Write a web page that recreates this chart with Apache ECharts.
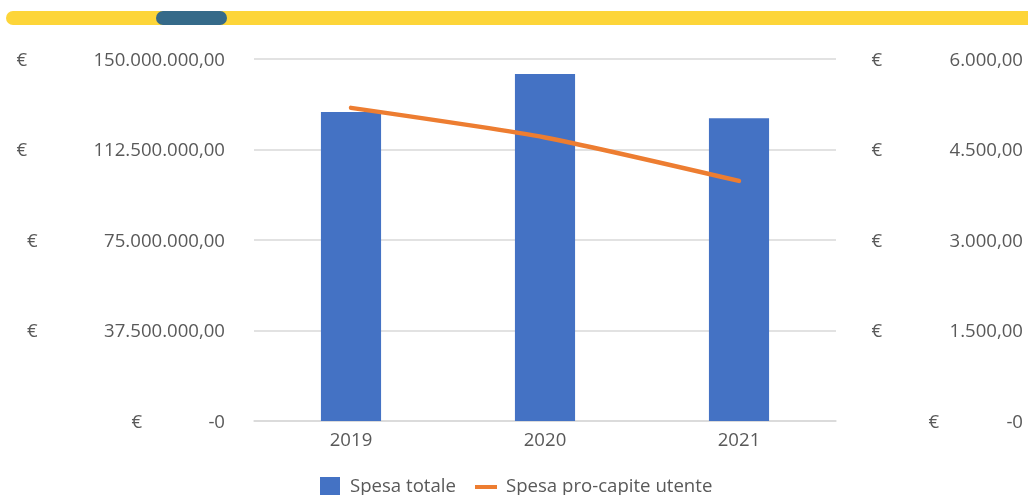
<!DOCTYPE html>
<html><head><meta charset="utf-8">
<script src="https://cdn.jsdelivr.net/npm/echarts@6/dist/echarts.min.js"></script>
<style>html,body{margin:0;padding:0;background:#fff}#c{width:1028px;height:495px}</style>
</head><body><div id="c"></div>
<script>
const categories = ['2019', '2020', '2021'];
const spesaTotale = [128000000, 143800000, 125500000];
const spesaProCapite = [5190, 4700, 3980];
const leftTicks = [0, 37500000, 75000000, 112500000, 150000000];
const rightTicks = [0, 1500, 3000, 4500, 6000];

function fmtIt(n) {
  if (n === 0) return '-0';
  const fixed = n.toFixed(2);
  const parts = fixed.split('.');
  const intPart = parts[0].replace(/\B(?=(\d{3})+(?!\d))/g, '.');
  return intPart + ',' + parts[1];
}

const font = '"Open Sans", sans-serif';
const grey = '#595959';
const fs = 18.6;
const chart = echarts.init(document.getElementById('c'), null, {renderer: 'canvas'});
chart.setOption({
  animation: false,
  backgroundColor: '#fff',
  graphic: [
    {type: 'rect', shape: {x: 6, y: 11, width: 1040, height: 14, r: 7}, style: {fill: '#FDD539'}},
    {type: 'rect', shape: {x: 156, y: 11, width: 71, height: 14, r: 7}, style: {fill: '#356A89'}}
  ],
  grid: {left: 254, right: 192, top: 59, bottom: 74},
  legend: [
    {data: ['Spesa totale'], left: 320, top: 477, padding: 0, icon: 'rect', itemWidth: 20, itemHeight: 20,
     textStyle: {fontSize: fs, color: grey, fontFamily: font, padding: [0, 0, 0, 5]}},
    {data: ['Spesa pro-capite utente'], left: 475, top: 477, padding: 0,
     icon: 'path://M0,0 L0,0 M0,8 L22,8 L22,12 L0,12 Z M22,20 L22,20', itemWidth: 22, itemHeight: 20,
     textStyle: {fontSize: fs, color: grey, fontFamily: font, padding: [0, 0, 0, 4]}}
  ],
  xAxis: {
    type: 'category', data: categories,
    axisTick: {show: false},
    axisLine: {show: true, lineStyle: {color: '#d9d9d9', width: 1.5}},
    axisLabel: {fontSize: fs, color: grey, fontFamily: font, margin: 10}
  },
  yAxis: [
    {type: 'value', min: leftTicks[0], max: leftTicks[leftTicks.length - 1], interval: leftTicks[1] - leftTicks[0],
     axisLine: {show: false}, axisTick: {show: false},
     splitLine: {lineStyle: {color: '#d9d9d9', width: 1.5}},
     axisLabel: {margin: 29, padding: [3, 0, 0, 0], formatter: v => '{c|€}{v|' + fmtIt(v) + '}',
       rich: {c: {width: 77, align: 'left', fontSize: fs, color: grey, fontFamily: font},
              v: {fontSize: fs, color: grey, fontFamily: font}}}},
    {type: 'value', min: rightTicks[0], max: rightTicks[rightTicks.length - 1], interval: rightTicks[1] - rightTicks[0],
     axisLine: {show: false}, axisTick: {show: false}, splitLine: {show: false},
     axisLabel: {margin: 187, align: 'right', padding: [3, 0, 0, 0], formatter: v => '{c|€}{v|' + fmtIt(v) + '}',
       rich: {c: {width: 78, align: 'left', fontSize: fs, color: grey, fontFamily: font},
              v: {fontSize: fs, color: grey, fontFamily: font}}}}
  ],
  series: [
    {name: 'Spesa totale', type: 'bar', data: spesaTotale, barWidth: '31%', itemStyle: {color: '#4472C4'}, yAxisIndex: 0},
    {name: 'Spesa pro-capite utente', type: 'line', data: spesaProCapite, yAxisIndex: 1, smooth: 0.2,
     showSymbol: false, symbol: 'none', lineStyle: {color: '#ED7D31', width: 4.5, cap: 'round'}, itemStyle: {color: '#ED7D31'}}
  ]
});
</script></body></html>
